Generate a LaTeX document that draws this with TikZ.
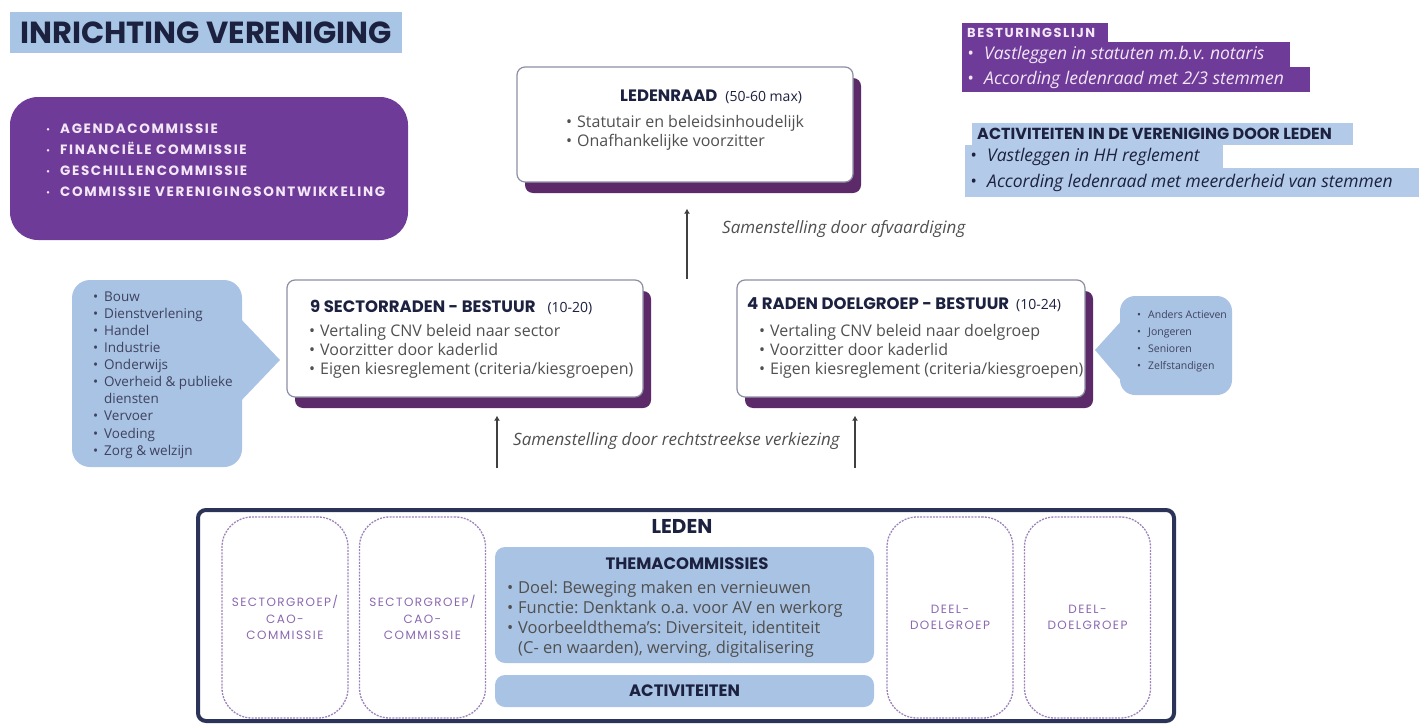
\documentclass[tikz,border=0pt]{standalone}
\usepackage{fontspec}
\setmainfont{Open Sans}
\newfontfamily\headfont{Poppins}
\newfontfamily\headwide{Poppins}[LetterSpace=12]
\usetikzlibrary{positioning,arrows.meta,shadows}

\definecolor{titleblue}{HTML}{A8C5E6}
\definecolor{navy}{HTML}{1C2140}
\definecolor{plum}{HTML}{6E3C98}
\definecolor{plumdark}{HTML}{5C2A68}
\definecolor{lilac}{HTML}{F3E6F6}
\definecolor{bubbleblue}{HTML}{A9C3E4}
\definecolor{boxgray}{HTML}{8C8FA3}
\definecolor{textgray}{HTML}{505050}
\definecolor{dashpurple}{HTML}{9C82B8}
\definecolor{lilactext}{HTML}{8A68B0}
\definecolor{ledennavy}{HTML}{2C3358}
\definecolor{lineblue}{HTML}{B3CBE8}

\newcommand{\bul}{\makebox[11pt][l]{\textbullet}}
\newcommand{\wbul}{\makebox[17pt][l]{\textbullet}}
\newcommand{\sbul}{\makebox[14pt][l]{\raisebox{1pt}{\scalebox{0.6}{\textbullet}}}}
\newcommand{\aantal}[1]{{\normalfont\fontsize{14}{16}\selectfont #1}}
\newcommand{\fixw}[2]{\makebox[#1][l]{#2}}
\frenchspacing

\begin{document}
\begin{tikzpicture}[x=1pt,y=-1pt,
		raadbox/.style={draw=boxgray, line width=1.2pt, fill=white, rounded corners=8pt, inner sep=0pt,
			drop shadow={shadow xshift=8pt, shadow yshift=-11pt, fill=plumdark, opacity=1}},
		headtext/.style={font=\headfont\bfseries\fontsize{16.5}{18}\selectfont, text=navy, inner sep=0pt},
		listtext/.style={font=\fontsize{16}{19}\selectfont, text=textgray, align=left, inner sep=0pt},
		bubble/.style={fill=bubbleblue, rounded corners=18pt, inner sep=0pt},
		bubbletext/.style={font=\fontsize{13.5}{17.1}\selectfont, text=navy!85, align=left, inner sep=0pt},
		flowarrow/.style={-{Latex[length=5pt,width=6pt]}, line width=2.5pt, draw=black!75},
		flowlabel/.style={font=\itshape\fontsize{17}{19}\selectfont, text=textgray, inner sep=0pt},
		dashbox/.style={draw=dashpurple, line width=1.3pt, dash pattern=on 2pt off 1.2pt, rounded corners=30pt,
			minimum width=126pt, minimum height=201pt, align=center, inner sep=0pt,
			font=\headwide\fontsize{12}{16.5}\selectfont, text=lilactext},
		bluepanel/.style={fill=bubbleblue, rounded corners=10pt, inner sep=0pt},
		hlpurple/.style={fill=plum, text=lilac, anchor=west, inner xsep=5pt, inner ysep=0pt},
		hlblue/.style={fill=lineblue, text=navy, anchor=west, inner xsep=5pt, inner ysep=0pt},
		]
		\useasboundingbox (0,0) rectangle (1419,725);
		
		%Title and commissions
		\node[fill=titleblue, minimum width=392pt, minimum height=41pt, inner sep=0pt, text=navy,
			font=\headfont\bfseries\fontsize{30.5}{32}\selectfont] (title) at (206,32.5) {INRICHTING VERENIGING};
		\node[fill=plum, rounded corners=28pt, minimum width=398pt, minimum height=143pt, inner sep=0pt] (commissies) at (209,168.5) {};
		\node[font=\headwide\bfseries\fontsize{13.5}{21}\selectfont, text=lilac, align=left, anchor=west, inner sep=0pt] (commlist) at (46,160)
			{\sbul AGENDACOMMISSIE\\ \sbul FINANCIËLE COMMISSIE\\ \sbul GESCHILLENCOMMISSIE\\ \sbul COMMISSIE VERENIGINGSONTWIKKELING};
		
		%Top right lines
		\node[hlpurple, minimum height=19pt, font=\headwide\bfseries\fontsize{13}{14}\selectfont] (stuurhead) at (962,32.5) {\fixw{136pt}{BESTURINGSLIJN}};
		\node[hlpurple, minimum height=25pt, font=\itshape\fontsize{17.5}{20}\selectfont] (stuur1) at (962,54.5) {\fixw{318pt}{\wbul Vastleggen in statuten m.b.v. notaris}};
		\node[hlpurple, minimum height=25pt, font=\itshape\fontsize{17.5}{20}\selectfont] (stuur2) at (962,79.5) {\fixw{338pt}{\wbul According ledenraad met 2/3 stemmen}};
		\node[hlblue, minimum height=22pt, font=\headfont\bfseries\fontsize{16}{17}\selectfont] (activhead) at (972,134) {\fixw{371pt}{ACTIVITEITEN IN DE VERENIGING DOOR LEDEN}};
		\node[hlblue, minimum height=23pt, font=\itshape\fontsize{17.5}{20}\selectfont] (activ1) at (965,156.5) {\fixw{248pt}{\wbul Vastleggen in HH reglement}};
		\node[hlblue, minimum height=29pt, font=\itshape\fontsize{17.5}{20}\selectfont] (activ2) at (965,182.5) {\fixw{444pt}{\wbul According ledenraad met meerderheid van stemmen}};
		
		%Ledenraad
		\node[raadbox, minimum width=336pt, minimum height=115pt] (ledenraad) at (685,124.5) {};
		\node[headtext, anchor=west] (ledenraadhead) at (620,97) {LEDENRAAD\hspace{8pt}\aantal{(50-60 max)}};
		\node[listtext, anchor=west] (ledenraadlist) at (566,132.5) {\bul Statutair en beleidsinhoudelijk\\ \bul Onafhankelijke voorzitter};
		
		%Sectorraden and doelgroepen
		\node[raadbox, minimum width=356pt, minimum height=117pt] (sector) at (465,338.5) {};
		\node[headtext, anchor=west] (sectorhead) at (310,307) {9 SECTORRADEN - BESTUUR\hspace{12pt}\aantal{(10-20)}};
		\node[listtext, anchor=west] (sectorlist) at (309,351)
			{\bul Vertaling CNV beleid naar sector\\ \bul Voorzitter door kaderlid\\ \bul Eigen kiesreglement (criteria/kiesgroepen)};
		\node[raadbox, minimum width=348pt, minimum height=117pt] (doelgroep) at (911,338.5) {};
		\node[headtext, anchor=west] (doelgroephead) at (747,305) {4 RADEN DOELGROEP - BESTUUR\hspace{7pt}\aantal{(10-24)}};
		\node[listtext, anchor=west] (doelgroeplist) at (759,351)
			{\bul Vertaling CNV beleid naar doelgroep\\ \bul Voorzitter door kaderlid\\ \bul Eigen kiesreglement (criteria/kiesgroepen)};
		
		%Bubbles
		\node[bubble, minimum width=170pt, minimum height=187pt] (sectorbubble) at (157,373.5) {};
		\coordinate (sectortip) at (280,360);
		\fill[bubbleblue] (238,316) -- (sectortip) -- (238,404) -- cycle;
		\node[bubbletext, anchor=west] (sectoren) at (93,375)
			{\bul Bouw\\ \bul Dienstverlening\\ \bul Handel\\ \bul Industrie\\ \bul Onderwijs\\ \bul Overheid \& publieke\\ \hspace*{11pt}diensten\\ \bul Vervoer\\ \bul Voeding\\ \bul Zorg \& welzijn};
		\node[bubble, rounded corners=15pt, minimum width=112pt, minimum height=99pt] (doelbubble) at (1176,345.5) {};
		\coordinate (doeltip) at (1095,350);
		\fill[bubbleblue] (1124,318) -- (doeltip) -- (1124,384) -- cycle;
		\node[bubbletext, font=\fontsize{10.5}{17}\selectfont, anchor=west] (doelgroepen) at (1137,341.5)
			{\bul Anders Actieven\\ \bul Jongeren\\ \bul Senioren\\ \bul Zelfstandigen};
		
		%Leden
		\node[draw=ledennavy, line width=4pt, rounded corners=8pt, minimum width=976pt, minimum height=211pt, inner sep=0pt] (leden) at (686,615.5) {};
		\node[headtext, font=\headfont\bfseries\fontsize{20}{22}\selectfont] (ledenhead) at (682,526) {LEDEN};
		\node[dashbox] (sectorgroep1) at (285,617.5) {SECTORGROEP/\\CAO-\\COMMISSIE};
		\node[dashbox] (sectorgroep2) at (422.5,617.5) {SECTORGROEP/\\CAO-\\COMMISSIE};
		\node[dashbox] (deelgroep1) at (950,617.5) {DEEL-\\DOELGROEP};
		\node[dashbox] (deelgroep2) at (1087.5,617.5) {DEEL-\\DOELGROEP};
		\node[bluepanel, minimum width=379pt, minimum height=116pt] (thema) at (684.5,605) {};
		\node[headtext] (themahead) at (687,564) {THEMACOMMISSIES};
		\node[listtext, font=\fontsize{16.5}{20}\selectfont, anchor=west] (themalist) at (507,619)
			{\bul Doel: Beweging maken en vernieuwen\\ \bul Functie: Denktank o.a. voor AV en werkorg\\ \bul Voorbeeldthema's: Diversiteit, identiteit\\ \hspace*{11pt}(C- en waarden), werving, digitalisering};
		\node[bluepanel, headtext, minimum width=379pt, minimum height=32pt] (activiteiten) at (684.5,691) {ACTIVITEITEN};
		
		%Arrows
		\coordinate (afvstart) at (687,279);
		\coordinate (kiesL) at (497,468);
		\coordinate (kiesR) at (855,468);
		\draw[flowarrow, shorten >=26pt] (afvstart) -- (afvstart |- ledenraad.south);
		\draw[flowarrow, shorten >=18pt] (kiesL) -- (kiesL |- sector.south);
		\draw[flowarrow, shorten >=18pt] (kiesR) -- (kiesR |- doelgroep.south);
		\node[flowlabel, anchor=west] (afvlabel) at (722,229) {Samenstelling door afvaardiging};
		\node[flowlabel, anchor=west] (kieslabel) at (513,441) {Samenstelling door rechtstreekse verkiezing};
		\end{tikzpicture}
\end{document}
